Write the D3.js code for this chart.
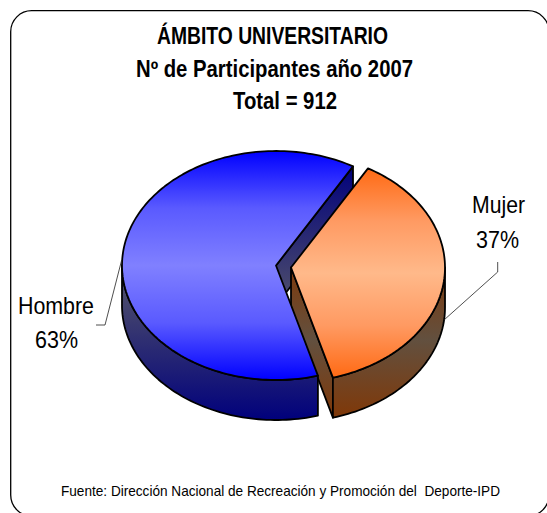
<!DOCTYPE html>
<html><head><meta charset="utf-8">
<script src="https://cdn.jsdelivr.net/npm/d3@7"></script>
<style>html,body{margin:0;padding:0;background:#fff;overflow:hidden}svg{display:block}text{font-family:"Liberation Sans",Arial,sans-serif;fill:#000}</style>
</head><body><div id="c"></div>
<script>
const categories = ["Mujer", "Hombre"];
const participants = [340, 572];
const percentLabels = ["37%", "63%"];
const titleLines = ["ÁMBITO UNIVERSITARIO", "Nº de Participantes año 2007", "Total = 912"];
const sourceText = "Fuente: Dirección Nacional de Recreación y Promoción del  Deporte-IPD";
const topColors = [["#ff6a14", "#ff9a62", "#ffb98a"], ["#0000ff", "#5a5aff", "#8080ff"]];
const sideColors = [["#803808", "#62503f"], ["#00007c", "#4a4a6c"]];

const W = 547, H = 513;
const svg = d3.select("#c").append("svg").attr("width", W).attr("height", H);
const defs = svg.append("defs");

svg.append("rect").attr("x", 10.7).attr("y", 10.7).attr("width", 538.3).attr("height", 505.3)
  .attr("rx", 21).attr("fill", "#fff").attr("stroke", "#000").attr("stroke-width", 1.3);

const rad = d => d * Math.PI / 180;
const pie = d3.pie().sort(null).startAngle(rad(30)).endAngle(rad(390));
const slices = pie(participants);

const rx = 154, ry = 114.5, depth = 40;
const centers = [{x: 291, y: 267.5}, {x: 276, y: 265.5}];

const sx = c => d3.scaleLinear().domain([-1, 1]).range([c.x - rx, c.x + rx]);
const sy = c => d3.scaleLinear().domain([-1, 1]).range([c.y - ry, c.y + ry]);
const line = d3.line().x(d => d[0]).y(d => d[1]);
const pt = (c, a, dz = 0) => [sx(c)(Math.sin(a)), sy(c)(-Math.cos(a)) + dz];
const arcPts = (c, a0, a1, dz = 0) => {
  const n = Math.max(2, Math.ceil(Math.abs(a1 - a0) / rad(1.5)));
  return d3.range(n + 1).map(i => pt(c, a0 + (a1 - a0) * i / n, dz));
};

function grad(id, cols, y1, y2) {
  const g = defs.append("linearGradient").attr("id", id).attr("gradientUnits", "userSpaceOnUse")
    .attr("x1", 0).attr("x2", 0).attr("y1", y1).attr("y2", y2);
  const seq = [...cols, ...cols.slice(0, -1).reverse()];
  seq.forEach((c, i) => g.append("stop").attr("offset", i / (seq.length - 1)).attr("stop-color", c));
  return `url(#${id})`;
}
const topFill = [
  grad("t0", topColors[0], centers[0].y - 99, centers[0].y + 110),
  grad("t1", topColors[1], centers[1].y - ry, centers[1].y + ry)
];
const sideFill = [
  grad("s0", sideColors[0], 262, 418),
  grad("s1", sideColors[1], 165, 421)
];

const face = (pts, fill) => svg.append("path").attr("d", line(pts) + "Z")
  .attr("fill", fill).attr("stroke", "#000").attr("stroke-width", 1.8).attr("stroke-linejoin", "round");

const [mujer, hombre] = slices;
const cM = centers[0], cH = centers[1];

face([[cH.x, cH.y], pt(cH, hombre.endAngle), pt(cH, hombre.endAngle, depth), [cH.x, cH.y + depth]], sideFill[1]);
face([[cM.x, cM.y], pt(cM, mujer.endAngle), pt(cM, mujer.endAngle, depth), [cM.x, cM.y + depth]], sideFill[0]);
face([...arcPts(cM, rad(90), mujer.endAngle), ...arcPts(cM, mujer.endAngle, rad(90), depth)], sideFill[0]);
face([[cM.x, cM.y], ...arcPts(cM, mujer.startAngle, mujer.endAngle)], topFill[0]);
face([...arcPts(cH, hombre.startAngle, rad(270)), ...arcPts(cH, rad(270), hombre.startAngle, depth)], sideFill[1]);
face([[cH.x, cH.y], ...arcPts(cH, hombre.startAngle, hombre.endAngle)], topFill[1]);

const leaders = [[[444, 320], [497.7, 272], [497.7, 262]], [[121.7, 260], [105, 325], [96, 325]]];
leaders.forEach(l => svg.append("path").attr("d", line(l)).attr("fill", "none").attr("stroke", "#222").attr("stroke-width", 0.8));

function fitted(t, x, y, len, size, weight) {
  svg.append("text").attr("x", x).attr("y", y).attr("font-size", size).attr("font-weight", weight)
    .attr("textLength", len).attr("lengthAdjust", "spacingAndGlyphs")
    .attr("xml:space", "preserve").style("white-space", "pre").text(t);
}

const labelPos = [
  [[472, 213, 53], [476, 248, 43]],
  [[18, 314, 76], [35, 348, 43]]
];
categories.forEach((c, i) => {
  [c, percentLabels[i]].forEach((t, j) => {
    const p = labelPos[i][j];
    fitted(t, p[0], p[1], p[2], 24, "normal");
  });
});

const titlePos = [[157, 44, 231], [136, 77, 277], [233, 109, 104]];
titleLines.forEach((t, i) => fitted(t, titlePos[i][0], titlePos[i][1], titlePos[i][2], 23, "bold"));

fitted(sourceText, 61, 496, 439, 14.5, "normal");
</script></body></html>
